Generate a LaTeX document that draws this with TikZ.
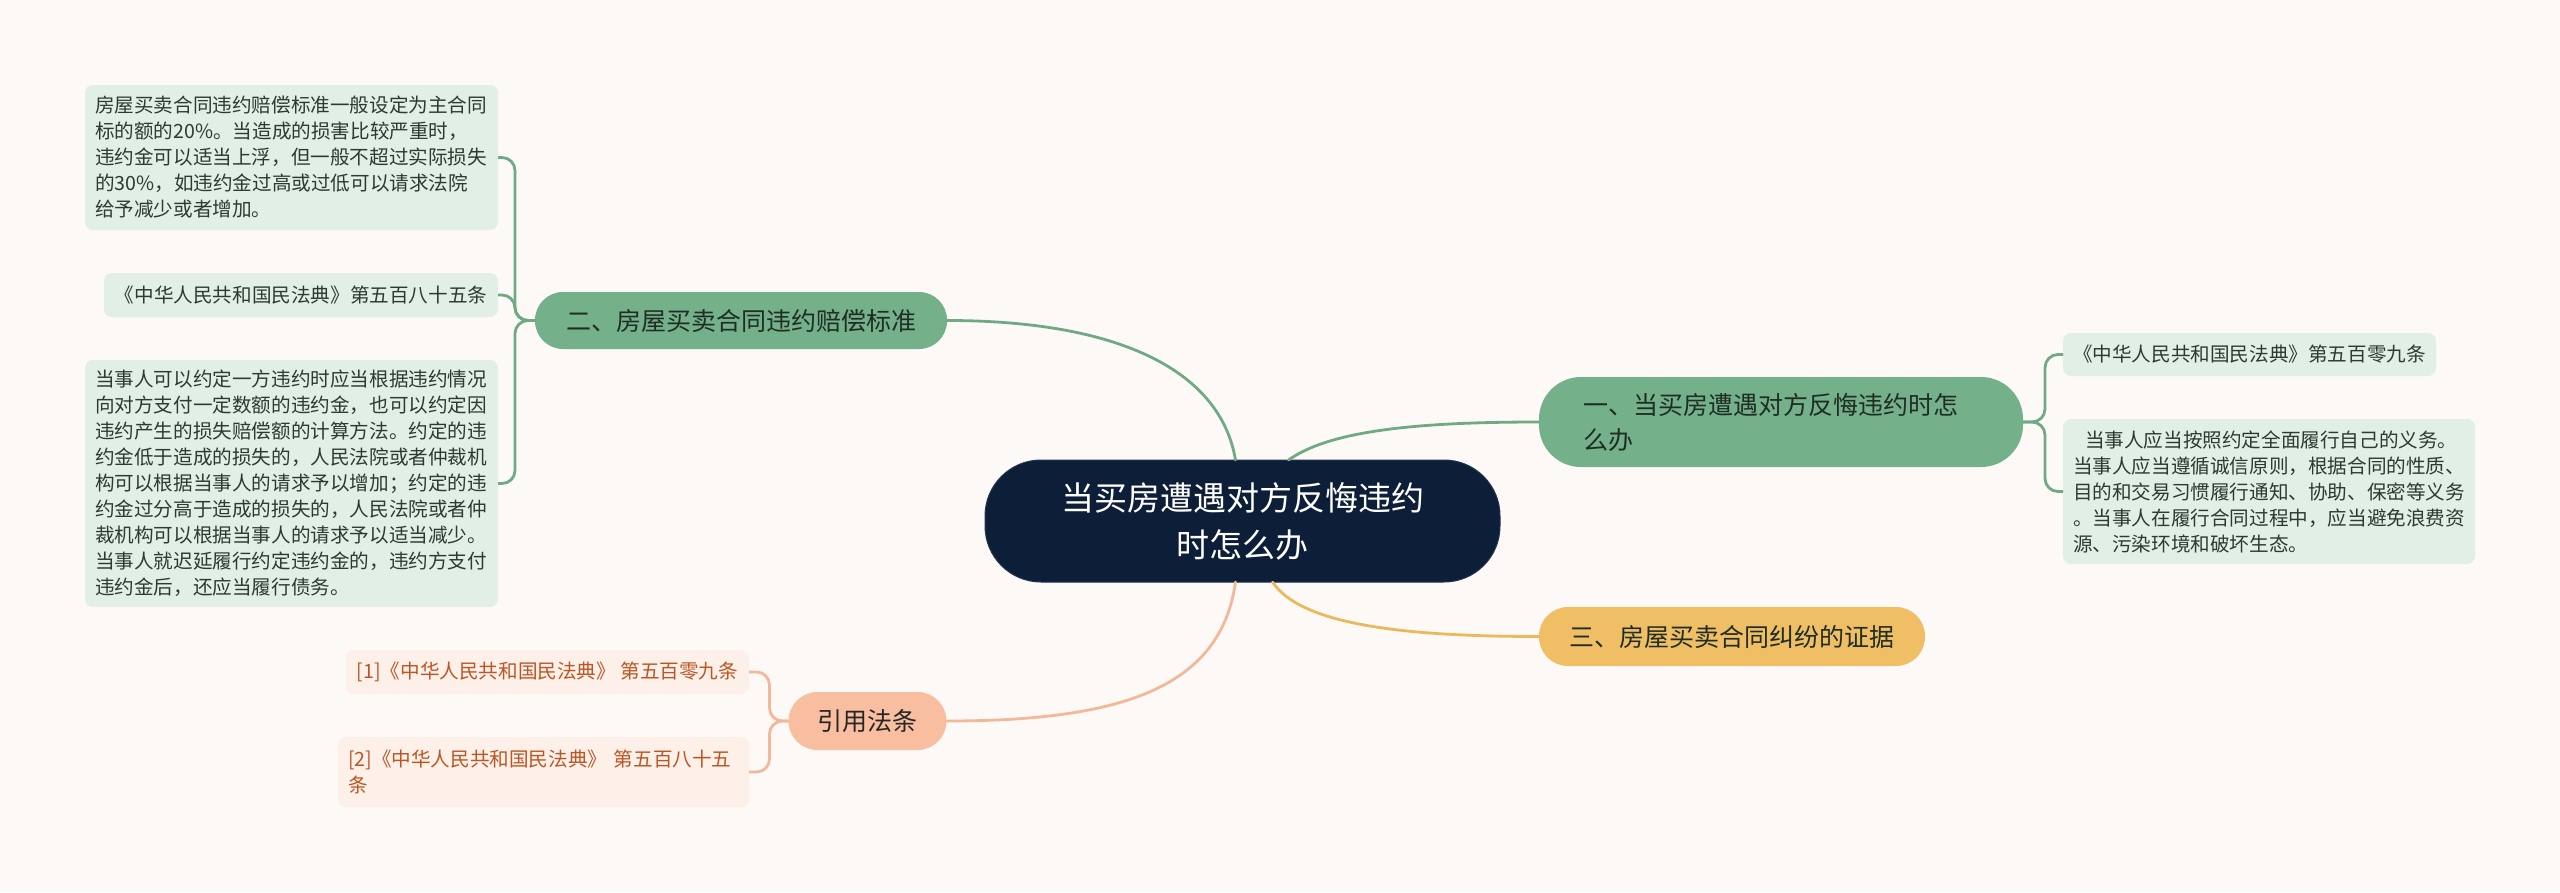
\documentclass[tikz,border=0pt]{standalone}
\usepackage{fontspec}
\setmainfont{Noto Sans CJK SC}
\definecolor{bgc}{HTML}{FDF9F7}
\definecolor{rootc}{HTML}{0D1E38}
\definecolor{rootb}{HTML}{22344F}
\definecolor{brg}{HTML}{74B089}
\definecolor{lng}{HTML}{70AA84}
\definecolor{leafg}{HTML}{E2EFE6}
\definecolor{txtg}{HTML}{2C3A31}
\definecolor{brtxt}{HTML}{1F2E25}
\definecolor{bry}{HTML}{F0BE64}
\definecolor{lny}{HTML}{E9B95C}
\definecolor{bro}{HTML}{F9BEA0}
\definecolor{lno}{HTML}{F3B899}
\definecolor{leafo}{HTML}{FDF0E9}
\definecolor{txto}{HTML}{BC5524}
\begin{document}
\begin{tikzpicture}[x=1pt,y=-1pt,
  every node/.style={inner sep=0pt, outer sep=0pt},
  rootbox/.style={fill=rootc, draw=rootb, line width=1pt, rounded corners=56pt,
    minimum width=515pt, minimum height=122pt, text=white, align=center,
    font=\fontsize{33}{47}\selectfont},
  brbox/.style={rounded corners=28pt, text=brtxt, font=\fontsize{25}{35}\selectfont},
  leafgbox/.style={fill=leafg, rounded corners=8pt, text=txtg, inner xsep=10pt,
    anchor=north west, font=\fontsize{19.6}{26}\selectfont},
  leafobox/.style={fill=leafo, rounded corners=8pt, text=txto, inner xsep=10pt,
    anchor=north west, font=\fontsize{19.6}{25.5}\selectfont},
  conn/.style={line width=2.8pt, line cap=round},
  brk/.style={line width=2.8pt, rounded corners=13pt}
]
\fill[bgc] (0,0) rectangle (2560,892);
\useasboundingbox (0,0) rectangle (2560,892);

% root
\node[rootbox] (root) at (1242.5,521) {当买房遭遇对方反悔违约\\时怎么办};

% branches
\node[brbox, fill=brg, rounded corners=42pt, minimum width=484pt, minimum height=90pt,
  text width=395pt, align=left] (b1) at (1781,422) {一、当买房遭遇对方反悔违约时怎\\么办};
\node[brbox, fill=brg, minimum width=412pt, minimum height=57pt] (b2) at (741,320.5) {二、房屋买卖合同违约赔偿标准};
\node[brbox, fill=bry, rounded corners=29pt, minimum width=386pt, minimum height=59pt] (b3) at (1732,636.5) {三、房屋买卖合同纠纷的证据};
\node[brbox, fill=bro, rounded corners=29pt, minimum width=158pt, minimum height=58pt, text=black!85] (b4) at (867.5,721) {引用法条};

% leaves of branch 2
\node[leafgbox, text width=393pt, minimum height=145pt, align=left] (l2a) at (85,85) {房屋买卖合同违约赔偿标准一般设定为主合同\\标的额的20\%。当造成的损害比较严重时，\\违约金可以适当上浮，但一般不超过实际损失\\的30\%，如违约金过高或过低可以请求法院\\给予减少或者增加。};
\node[leafgbox, minimum width=394pt, minimum height=44pt] (l2b) at (104,273) {《中华人民共和国民法典》第五百八十五条};
\node[leafgbox, text width=393pt, minimum height=247pt, align=left] (l2c) at (85,360) {当事人可以约定一方违约时应当根据违约情况\\向对方支付一定数额的违约金，也可以约定因\\违约产生的损失赔偿额的计算方法。约定的违\\约金低于造成的损失的，人民法院或者仲裁机\\构可以根据当事人的请求予以增加；约定的违\\约金过分高于造成的损失的，人民法院或者仲\\裁机构可以根据当事人的请求予以适当减少。\\当事人就迟延履行约定违约金的，违约方支付\\违约金后，还应当履行债务。};

% leaves of branch 1
\node[leafgbox, minimum width=373pt, minimum height=43pt] (r1a) at (2063,333) {《中华人民共和国民法典》第五百零九条};
\node[leafgbox, text width=392pt, minimum height=145pt, align=left] (r1b) at (2063,419) {\hspace*{12pt}当事人应当按照约定全面履行自己的义务。\\当事人应当遵循诚信原则，根据合同的性质、\\目的和交易习惯履行通知、协助、保密等义务\\。当事人在履行合同过程中，应当避免浪费资\\源、污染环境和破坏生态。};

% leaves of branch 4
\node[leafobox, minimum width=403pt, minimum height=44pt] (r4a) at (346,650) {[1]《中华人民共和国民法典》 第五百零九条};
\node[leafobox, text width=391pt, minimum height=70pt, align=left] (r4b) at (338,737) {[2]《中华人民共和国民法典》 第五百八十五\\条};

% root connectors
\draw[conn, lng] ([xshift=46pt]root.north) .. controls +(42,-30) and +(-119,0) .. (b1.west);
\draw[conn, lng] ([xshift=-7pt]root.north) .. controls +(-15,-89) and +(173,0) .. (b2.east);
\draw[conn, lny] ([xshift=30pt]root.south) .. controls +(28,42) and +(-139,0) .. (b3.west);
\draw[conn, lno] ([xshift=-7pt]root.south) .. controls +(-15,107) and +(173,0) .. (b4.east);

% brackets
\coordinate (t2) at ([xshift=-20pt]b2.west);
\draw[brk, lng] (b2.west) -- (t2) |- (l2a.east);
\draw[brk, lng] (b2.west) -- (t2) |- (l2b.east);
\draw[brk, lng] (b2.west) -- (t2) |- (l2c.east);
\coordinate (t1) at ([xshift=22pt]b1.east);
\draw[brk, lng] (b1.east) -- (t1) |- (r1a.west);
\draw[brk, lng] (b1.east) -- (t1) |- (r1b.west);
\coordinate (t4) at ([xshift=-19pt]b4.west);
\draw[brk, lno] (b4.west) -- (t4) |- (r4a.east);
\draw[brk, lno] (b4.west) -- (t4) |- (r4b.east);
\end{tikzpicture}
\end{document}
